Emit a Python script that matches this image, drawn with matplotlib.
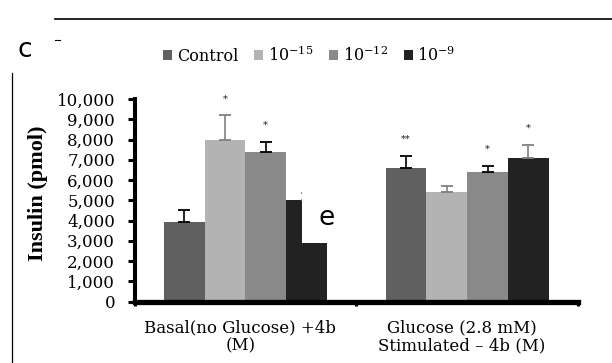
import matplotlib
matplotlib.use('Agg')
import matplotlib.pyplot as plt
from matplotlib.patches import Patch, Rectangle
from matplotlib.lines import Line2D
from matplotlib.transforms import ScaledTranslation
import numpy as np

plt.rcParams['font.family'] = ['DejaVu Serif']
plt.rcParams['mathtext.fontset'] = 'dejavuserif'

# ---------------- data ----------------
groups = ['Basal(no Glucose) +4b\n(M)', 'Glucose (2.8 mM)\nStimulated \u2013 4b (M)']
series = ['Control', r'$10^{-15}$', r'$10^{-12}$', r'$10^{-9}$']
colors = ['#606060', '#b3b3b3', '#898989', '#222222']

control = [3930, 6610]
c15 = [8000, 5410]
c12 = [7360, 6410]
c9 = [5010, 7110]

control_err = [600, 580]
c15_err = [1190, 300]
c12_err = [530, 280]
c9_err = [350, 610]

control_sig = ['', '**']
c15_sig = ['*', '']
c12_sig = ['*', '*']
c9_sig = ['', '*']

ecolors = ['black', '#808080', 'black', '#808080']

yticks = [0, 1000, 2000, 3000, 4000, 5000, 6000, 7000, 8000, 9000, 10000]
ytick_labels = ['0', '1,000', '2,000', '3,000', '4,000', '5,000',
                '6,000', '7,000', '8,000', '9,000', '10,000']

# ---------------- figure ----------------
W, H = 612, 363
fig = plt.figure(figsize=(W / 100, H / 100), dpi=100)
ax = fig.add_axes([134.5 / W, 1 - 301.5 / H, (578 - 134.5) / W, (301.5 - 99) / H])

x = np.arange(len(groups))
w = 0.184
all_vals = [control, c15, c12, c9]
all_errs = [control_err, c15_err, c12_err, c9_err]
all_sig = [control_sig, c15_sig, c12_sig, c9_sig]

for i, (vals, errs, sig) in enumerate(zip(all_vals, all_errs, all_sig)):
    pos = x + (i - 1.5) * w
    ax.bar(pos, vals, w, color=colors[i], zorder=2, linewidth=0)
    ax.errorbar(pos, vals, yerr=[np.zeros(len(vals)), errs], fmt='none',
                ecolor=ecolors[i], elinewidth=1.2, capsize=4.3, capthick=1.3, zorder=3)
    for p, v, e, s in zip(pos, vals, errs, sig):
        if s:
            ax.annotate(s, (p, v + e), xytext=(0, 12), textcoords='offset points',
                        ha='center', va='center', fontsize=7, color='#222222')

ax.set_xlim(-0.5, 1.5)
ax.set_ylim(0, 10000)
ax.set_yticks(yticks)
ax.set_yticklabels(ytick_labels)
ax.set_xticks([-0.5, 0.5, 1.5])
ax.set_xticklabels([])
ax.set_xticks([0, 1], minor=True)
ax.set_xticklabels(groups, minor=True)

for s in ['top', 'right']:
    ax.spines[s].set_visible(False)
ax.spines['left'].set_linewidth(2.9)
ax.spines['bottom'].set_linewidth(3.8)

ax.tick_params(axis='y', direction='out', length=5, width=2.2, pad=9, labelsize=12)
ax.tick_params(axis='x', which='major', direction='out', length=3, width=2.2)
ax.tick_params(axis='x', which='minor', length=0, pad=13, labelsize=12)
for lab in ax.get_xticklabels(minor=True):
    lab.set_linespacing(1.08)
    lab.set_transform(lab.get_transform() + ScaledTranslation(-0.05, 0, fig.dpi_scale_trans))

fig.text(38 / W, 1 - 193 / H, 'Insulin (pmol)', rotation=90, family='Liberation Serif',
         fontweight='bold', fontsize=16, ha='center', va='center')

handles = [Patch(facecolor=c, edgecolor='none') for c in colors]
fig.legend(handles, series, loc='center', bbox_to_anchor=(309.5 / W, 1 - 55 / H), ncol=4,
           frameon=False, fontsize=11.5, handlelength=0.55, handleheight=0.55,
           handletextpad=0.3, columnspacing=1.0, borderpad=0, borderaxespad=0)

# decorations from the source page
fig.add_artist(Line2D([55 / W, 1], [1 - 19 / H] * 2, color='black', lw=1.2))
fig.add_artist(Line2D([55 / W, 60 / W], [1 - 40 / H] * 2, color='black', lw=0.8))
fig.add_artist(Line2D([12 / W] * 2, [1 - 73 / H, 0], color='black', lw=0.9))
fig.text(25 / W, 1 - 57 / H, 'c', fontsize=19, family='DejaVu Sans', ha='center', va='baseline')

fig.add_artist(Rectangle((301.7 / W, 1 - 242.7 / H), (352 - 301.7) / W, (242.7 - 172) / H,
                         transform=fig.transFigure, facecolor='white', edgecolor='none', zorder=5))
fig.text(327 / W, 1 - 225 / H, 'e', fontsize=19, family='DejaVu Sans', ha='center',
         va='baseline', zorder=6)

fig.savefig('out.png', dpi=100)
